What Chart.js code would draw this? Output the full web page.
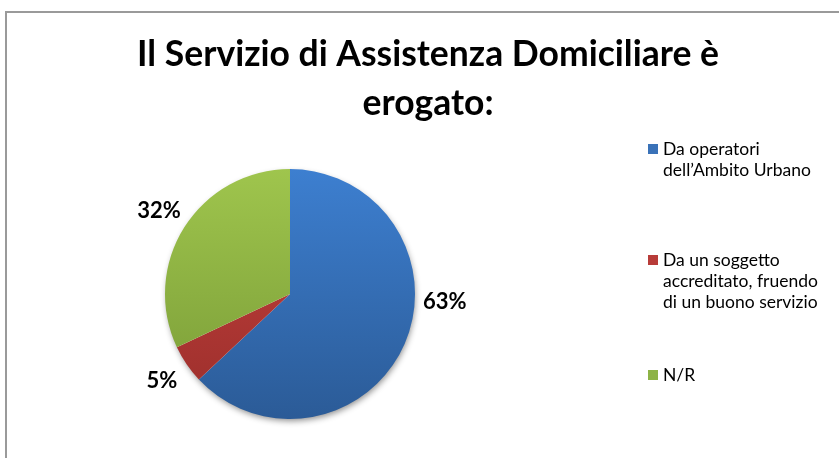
<!DOCTYPE html>
<html>
<head>
<meta charset="utf-8">
<script src="https://cdn.jsdelivr.net/npm/chart.js@4"></script>
<style>
  html, body { margin: 0; padding: 0; background: #fff; }
  #wrap { width: 839px; height: 458px; position: relative; }
</style>
</head>
<body>
<div id="wrap"><canvas id="pie" width="839" height="458"></canvas></div>
<script>
// Dati
const titolo = ['Il Servizio di Assistenza Domiciliare è', 'erogato:'];
const categorie = ['Da operatori dell\u2019Ambito Urbano', 'Da un soggetto accreditato, fruendo di un buono servizio', 'N/R'];
const legendaRighe = [['Da operatori', 'dell\u2019Ambito Urbano'], ['Da un soggetto', 'accreditato, fruendo', 'di un buono servizio'], ['N/R']];
const valori = [63, 5, 32];

const GRAD = [['#3d7fd0', '#2b5b97'], ['#c8423e', '#9a2e2b'], ['#9fc54d', '#789a36']];
const BASE = ['#3a72b8', '#b83c39', '#8db346'];
const FONT = 'Lato, "Open Sans", sans-serif';

function gradiente(ctx) {
  const ch = ctx.chart, a = ch.chartArea;
  if (!a) return BASE[ctx.dataIndex];
  const g = ch.ctx.createLinearGradient(0, a.top, 0, a.bottom);
  g.addColorStop(0, GRAD[ctx.dataIndex][0]);
  g.addColorStop(1, GRAD[ctx.dataIndex][1]);
  return g;
}

// cornice, titolo, ombra, etichette e legenda
const decorazioni = {
  id: 'decorazioni',
  beforeDraw(chart) {
    const c = chart.ctx;
    c.save();
    c.strokeStyle = '#9a9a9a';
    c.lineWidth = 2;
    c.beginPath();
    c.moveTo(6, 458); c.lineTo(6, 12); c.lineTo(839, 12);
    c.stroke();

    c.fillStyle = '#000';
    c.textAlign = 'center';
    c.textBaseline = 'alphabetic';
    c.font = 'bold 35.5px ' + FONT;
    c.fillText(titolo[0], 428, 66);
    c.fillText(titolo[1], 428, 115);
    c.restore();
  },
  beforeDatasetsDraw(chart) {
    const arc = chart.getDatasetMeta(0).data[0];
    if (!arc) return;
    const c = chart.ctx;
    c.save();
    c.shadowColor = 'rgba(0,0,0,0.45)';
    c.shadowBlur = 6;
    c.shadowOffsetX = 1;
    c.shadowOffsetY = 3;
    c.fillStyle = '#fff';
    c.beginPath();
    c.arc(arc.x, arc.y, arc.outerRadius - 1, 0, Math.PI * 2);
    c.fill();
    c.restore();
  },
  afterDatasetsDraw(chart, args, opts) {
    const c = chart.ctx;
    const meta = chart.getDatasetMeta(0);
    const tot = valori.reduce((s, v) => s + v, 0);
    c.save();
    c.fillStyle = '#000';
    c.textAlign = 'center';
    c.textBaseline = 'middle';
    c.font = 'bold 22px ' + FONT;
    meta.data.forEach((el, i) => {
      let ang = (el.startAngle + el.endAngle) / 2;
      if (opts.angoli && opts.angoli[i] != null) ang = -Math.PI / 2 + opts.angoli[i] * Math.PI / 180;
      const d = el.outerRadius + 30;
      const pct = Math.round(valori[i] / tot * 100) + '%';
      c.fillText(pct, el.x + Math.cos(ang) * d, el.y + Math.sin(ang) * d);
    });

    // legenda
    c.textAlign = 'left';
    c.textBaseline = 'alphabetic';
    c.font = '17.5px ' + FONT;
    const primaRiga = [155, 266, 381];
    legendaRighe.forEach((righe, i) => {
      const y0 = primaRiga[i];
      c.fillStyle = BASE[i];
      c.fillRect(648, y0 - 11, 10, 10);
      c.fillStyle = '#000';
      righe.forEach((t, k) => c.fillText(t, 663, y0 + k * 21));
    });
    c.restore();
  }
};

new Chart(document.getElementById('pie'), {
  type: 'pie',
  data: {
    labels: categorie,
    datasets: [{
      data: valori,
      backgroundColor: gradiente,
      borderWidth: 0
    }]
  },
  options: {
    responsive: false,
    animation: false,
    layout: { padding: { left: 165, right: 424, top: 169, bottom: 39 } },
    plugins: {
      legend: { display: false },
      tooltip: { enabled: false },
      decorazioni: { angoli: [93, null, null] }
    }
  },
  plugins: [decorazioni]
});
</script>
</body>
</html>
